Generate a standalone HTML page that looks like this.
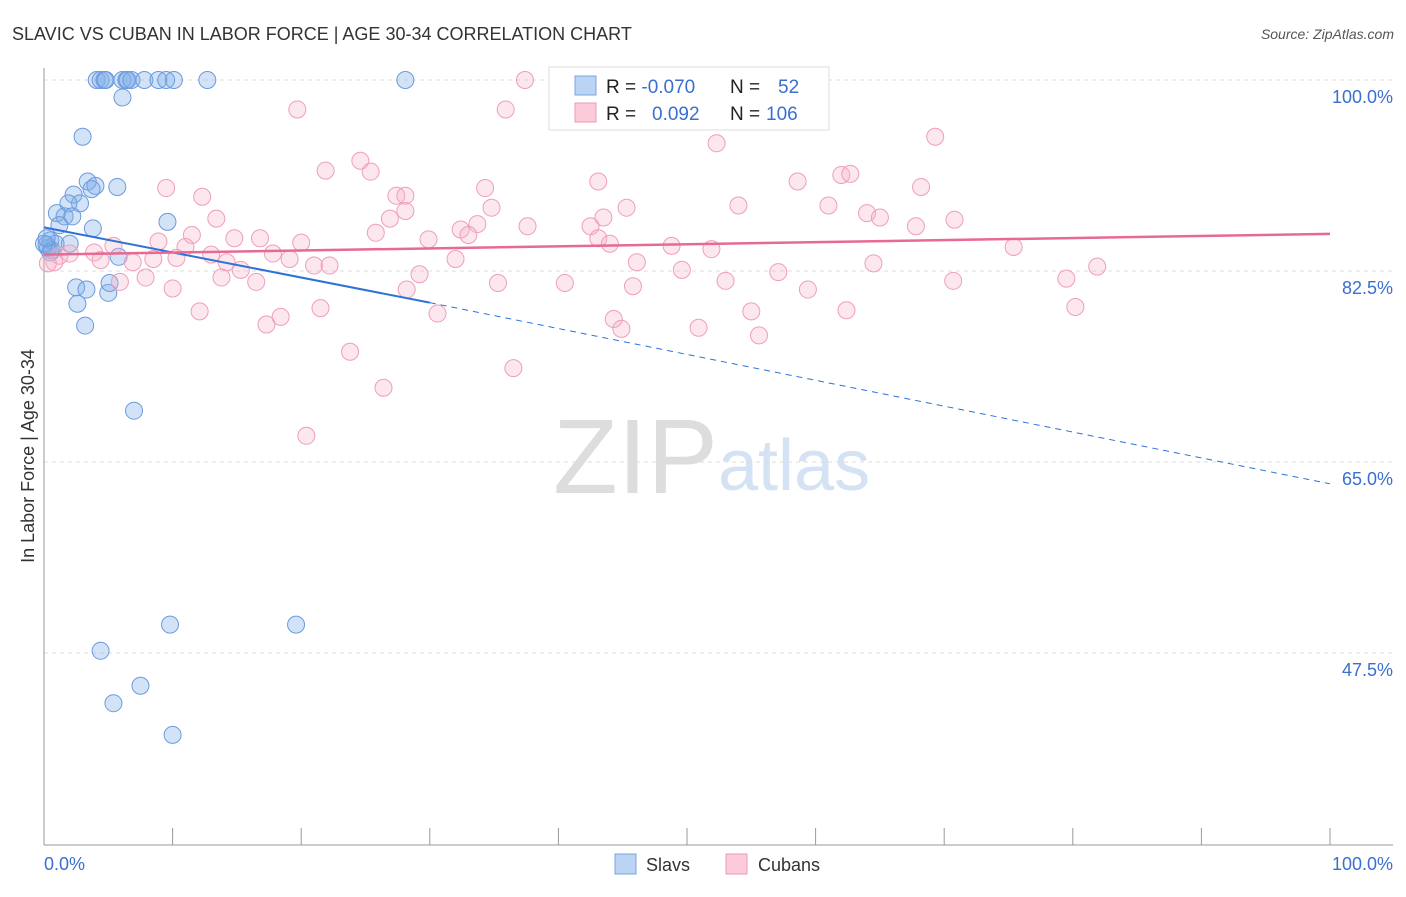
<!DOCTYPE html>
<html><head><meta charset="utf-8"><style>
body{margin:0;background:#fff;font-family:"Liberation Sans",sans-serif;}
svg text{font-family:"Liberation Sans",sans-serif;}
</style></head><body>
<svg id="chart" width="1406" height="892" viewBox="0 0 1406 892">
<text x="12" y="40" font-size="18" fill="#333">SLAVIC VS CUBAN IN LABOR FORCE | AGE 30-34 CORRELATION CHART</text>
<text x="1394" y="39" font-size="14" fill="#555" font-style="italic" text-anchor="end">Source: ZipAtlas.com</text>
<g>
<text x="553" y="493" font-size="106" fill="#ddd" font-family="Liberation Serif">ZIP</text>
<text x="718" y="490" font-size="72" fill="#d4e2f4">atlas</text>
</g>
<g id="grid"></g>
<g id="axes"></g>
<g id="marks"></g>
<g id="lines"></g>
<text transform="translate(34,456) rotate(-90)" font-size="18" fill="#333" text-anchor="middle">In Labor Force | Age 30-34</text>
<text x="44" y="870" font-size="18" fill="#3a6fd0">0.0%</text>
<text x="1393" y="870" font-size="18" fill="#3a6fd0" text-anchor="end">100.0%</text>
<g>
<rect x="549" y="67" width="280" height="63" fill="#fff" stroke="#ddd"/>
<rect x="575" y="76" width="21" height="19" fill="#bcd4f4" stroke="#7aa6e0"/>
<rect x="575" y="103" width="21" height="19" fill="#fbcbd9" stroke="#ec9ab5"/>
<text x="606" y="93" font-size="19" fill="#222">R = <tspan fill="#3a6fd0">-0.070</tspan><tspan x="730">N = </tspan><tspan x="778" fill="#3a6fd0">52</tspan></text>
<text x="606" y="120" font-size="19" fill="#222">R = <tspan x="652" fill="#3a6fd0">0.092</tspan><tspan x="730">N = </tspan><tspan x="766" fill="#3a6fd0">106</tspan></text>
</g>
<g>
<rect x="615" y="854" width="21" height="20" fill="#bcd4f4" stroke="#7aa6e0"/>
<text x="646" y="871" font-size="18" fill="#333">Slavs</text>
<rect x="726" y="854" width="21" height="20" fill="#fbcbd9" stroke="#ec9ab5"/>
<text x="758" y="871" font-size="18" fill="#333">Cubans</text>
</g>
</svg>
<script>
const yTicks=[100,82.5,65,47.5];
const yTickLabels=["100.0%","82.5%","65.0%","47.5%"];
const xTicks=[0,10,20,30,40,50,60,70,80,90,100];
const slavX=[4.1,4.4,4.7,4.8,6.1,6.4,6.5,6.8,7.8,8.9,9.5,10.1,12.7,28.1,6.1,3.0,3.4,4.0,3.7,5.7,2.3,2.8,1.9,1.0,1.6,2.2,1.2,3.8,9.6,0.5,0.9,2.0,0.3,5.8,2.5,3.3,5.0,5.1,2.6,3.2,7.0,9.8,19.6,4.4,7.5,5.4,10.0,0.2,0.6,0,0.5,0.2];
const slavY=[100,100,100,100,100,100,100,100,100,100,100,100,100,100,98.4,94.8,90.7,90.3,90.0,90.2,89.5,88.7,88.7,87.8,87.5,87.5,86.7,86.4,87.0,85.3,85.0,85.0,84.6,83.8,81.0,80.8,80.5,81.4,79.5,77.5,69.7,50.1,50.1,47.7,44.5,42.9,40.0,84.9,84.4,85.0,84.2,85.5];
const cubX=[19.7,35.9,37.4,52.3,69.3,24.6,21.9,25.4,9.5,12.3,34.3,43.1,58.6,62.0,62.7,68.2,27.4,28.1,28.1,34.8,45.3,54.0,61.0,64.0,65.0,70.8,67.8,13.4,26.9,33.7,37.6,42.5,43.5,25.8,32.4,33.0,11.5,14.8,16.8,29.9,43.1,44.0,48.8,51.9,75.4,8.9,20.0,5.4,3.9,11.0,13.0,17.8,19.1,14.2,8.5,10.3,6.9,4.4,2.0,1.2,0.8,0.3,32.0,46.1,49.6,57.1,81.9,64.5,21.0,22.2,15.3,29.2,13.8,16.5,7.9,5.9,10.0,35.3,40.5,45.8,53.0,28.2,59.4,70.7,79.5,12.1,18.4,17.3,21.5,30.6,44.3,44.9,50.9,55.0,55.6,62.4,80.2,23.8,36.5,26.4,20.4];
const cubY=[97.3,97.3,100,94.2,94.8,92.6,91.7,91.6,90.1,89.3,90.1,90.7,90.7,91.3,91.4,90.2,89.4,89.4,88.0,88.3,88.3,88.5,88.5,87.8,87.4,87.2,86.6,87.3,87.3,86.8,86.6,86.6,87.4,86.0,86.3,85.8,85.8,85.5,85.5,85.4,85.5,85.0,84.8,84.5,84.7,85.2,85.1,84.8,84.2,84.7,84.0,84.1,83.6,83.3,83.6,83.7,83.3,83.5,84.1,83.9,83.3,83.2,83.6,83.3,82.6,82.4,82.9,83.2,83.0,83.0,82.6,82.2,81.9,81.5,81.9,81.5,80.9,81.4,81.4,81.1,81.6,80.8,80.8,81.6,81.8,78.8,78.3,77.6,79.1,78.6,78.1,77.2,77.3,78.8,76.6,78.9,79.2,75.1,73.6,71.8,67.4];
const slavTrend=[86.5,79.6,63.0];
const cubTrend=[84.0,85.9];
const NS="http://www.w3.org/2000/svg";
const X=v=>44+v*12.86, Y=v=>80+(100-v)*10.914;
function mk(t,a,p){const e=document.createElementNS(NS,t);for(const k in a)e.setAttribute(k,a[k]);p.appendChild(e);return e;}
const grid=document.getElementById('grid'),axes=document.getElementById('axes'),marks=document.getElementById('marks'),lines=document.getElementById('lines');
yTicks.forEach((t,i)=>{
 const l=mk('line',{x1:44,x2:1393,y1:Y(t),y2:Y(t),stroke:'#ddd','stroke-dasharray':'4,4'},grid);
 
 
 const tx=mk('text',{x:1393,y:Y(t)+23,'font-size':18,fill:'#3a6fd0','text-anchor':'end'},grid);
 tx.textContent=yTickLabels[i];
 
 
});
let a=mk('line',{x1:44,x2:44,y1:68,y2:845,stroke:'#999'},axes);


a=mk('line',{x1:44,x2:1393,y1:845,y2:845,stroke:'#999'},axes);


xTicks.forEach(t=>{
 const l=mk('line',{x1:X(t),x2:X(t),y1:828,y2:845,stroke:'#999'},axes);
 
 
});
slavX.forEach((v,i)=>{
 const c=mk('circle',{cx:X(v),cy:Y(slavY[i]),r:8.5,fill:'rgba(130,175,232,0.35)',stroke:'#6b9ade','stroke-width':1},marks);
 
 
});
cubX.forEach((v,i)=>{
 const c=mk('circle',{cx:X(v),cy:Y(cubY[i]),r:8.5,fill:'rgba(245,175,198,0.3)',stroke:'#ef9ebb','stroke-width':1},marks);
 
 
});
let t=mk('line',{x1:X(0),y1:Y(slavTrend[0]),x2:X(30),y2:Y(slavTrend[1]),stroke:'#2f72d6','stroke-width':2},lines);


t=mk('line',{x1:X(30),y1:Y(slavTrend[1]),x2:X(100),y2:Y(slavTrend[2]),stroke:'#2f72d6','stroke-width':1,'stroke-dasharray':'6,5'},lines);


t=mk('line',{x1:X(0),y1:Y(cubTrend[0]),x2:X(100),y2:Y(cubTrend[1]),stroke:'#e66a94','stroke-width':2.5},lines);


</script>
</body></html>
